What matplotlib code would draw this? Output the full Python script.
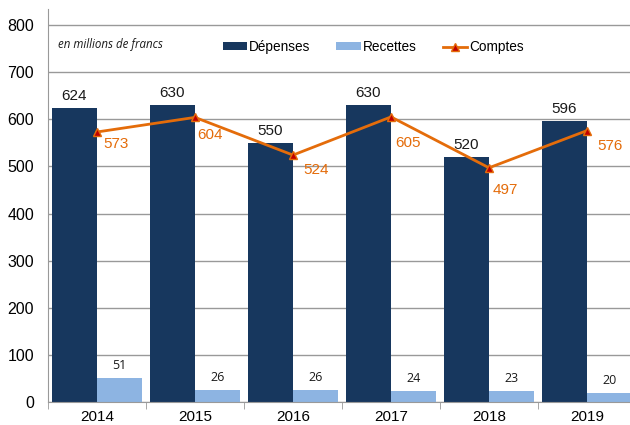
import matplotlib.pyplot as plt
import numpy as np

annees = ["2014", "2015", "2016", "2017", "2018", "2019"]
depenses = [624, 630, 550, 630, 520, 596]
recettes = [51, 26, 26, 24, 23, 20]
comptes = [573, 604, 524, 605, 497, 576]

# decalage des etiquettes "Comptes" (pixels, droite / bas)
decal_comptes = [(6, 12), (2.5, 18), (10, 15), (4, 26), (4, 22.5), (10, 15)]

plt.rcParams['font.family'] = ['Liberation Sans', 'DejaVu Sans']

navy = '#17375E'
light = '#8DB4E2'
orange = '#E46C0A'

fig = plt.figure(figsize=(6.3, 4.25), dpi=100)
# plot area runs a little past the right edge, like the source
ax = fig.add_axes([48/630, 23/425, 588/630, 393/425])

x = np.arange(len(annees))
w = 0.46
b1 = ax.bar(x - w/2, depenses, w, color=navy, label="Dépenses", zorder=2)
b2 = ax.bar(x + w/2, recettes, w, color=light, label="Recettes", zorder=2)
l1, = ax.plot(x, comptes, color=orange, lw=2, marker='^', ms=5.5,
              mfc='#C00000', mec=orange, mew=1, label="Comptes", zorder=3)

px = 72 / 100  # points par pixel
for i in x:
    ax.annotate(str(depenses[i]), (i - w/2, depenses[i]), xytext=(0, 3.5),
                textcoords='offset points', ha='center', va='bottom',
                fontsize=11, color='#1a1a1a')
    ax.annotate(str(recettes[i]), (i + w/2, recettes[i]), xytext=(0, 9),
                textcoords='offset points', ha='center', va='center',
                fontsize=9, family='Open Sans', color='#1a1a1a')
    dx, dy = decal_comptes[i]
    ax.annotate(str(comptes[i]), (i, comptes[i]), xytext=(dx*px, -dy*px),
                textcoords='offset points', ha='left', va='center',
                fontsize=11, color=orange)

ax.set_xlim(-0.5, 5.5)
ax.set_ylim(0, 834)
ax.set_yticks(range(0, 801, 100))
ax.set_xticks(x)
ax.set_xticklabels(annees)
ax.set_xticks(np.arange(-0.5, 6, 1), minor=True)
ax.tick_params(axis='x', which='major', length=0, labelsize=11, pad=6)
ax.tick_params(axis='x', which='minor', length=5, color='#999999')
ax.tick_params(axis='y', length=0, labelsize=11.5, pad=10)
ax.grid(axis='y', color='#999999', lw=1, zorder=0)
ax.set_axisbelow(True)
for s in ['top', 'right']:
    ax.spines[s].set_visible(False)
for s in ['left', 'bottom']:
    ax.spines[s].set_color('#999999')

ax.text(0.017, 0.91, "en millions de francs", transform=ax.transAxes,
        fontsize=8.3, style='italic', family='Open Sans', va='center', color='#1a1a1a')

ax.legend([b1, b2, l1], ["Dépenses", "Recettes", "Comptes"],
          loc='center', bbox_to_anchor=(0.553, 0.903), ncol=3, frameon=False,
          fontsize=9.8, handlelength=1.8, handleheight=0.5, columnspacing=1.9,
          handletextpad=0.15)

fig.savefig("out.png", dpi=100)
